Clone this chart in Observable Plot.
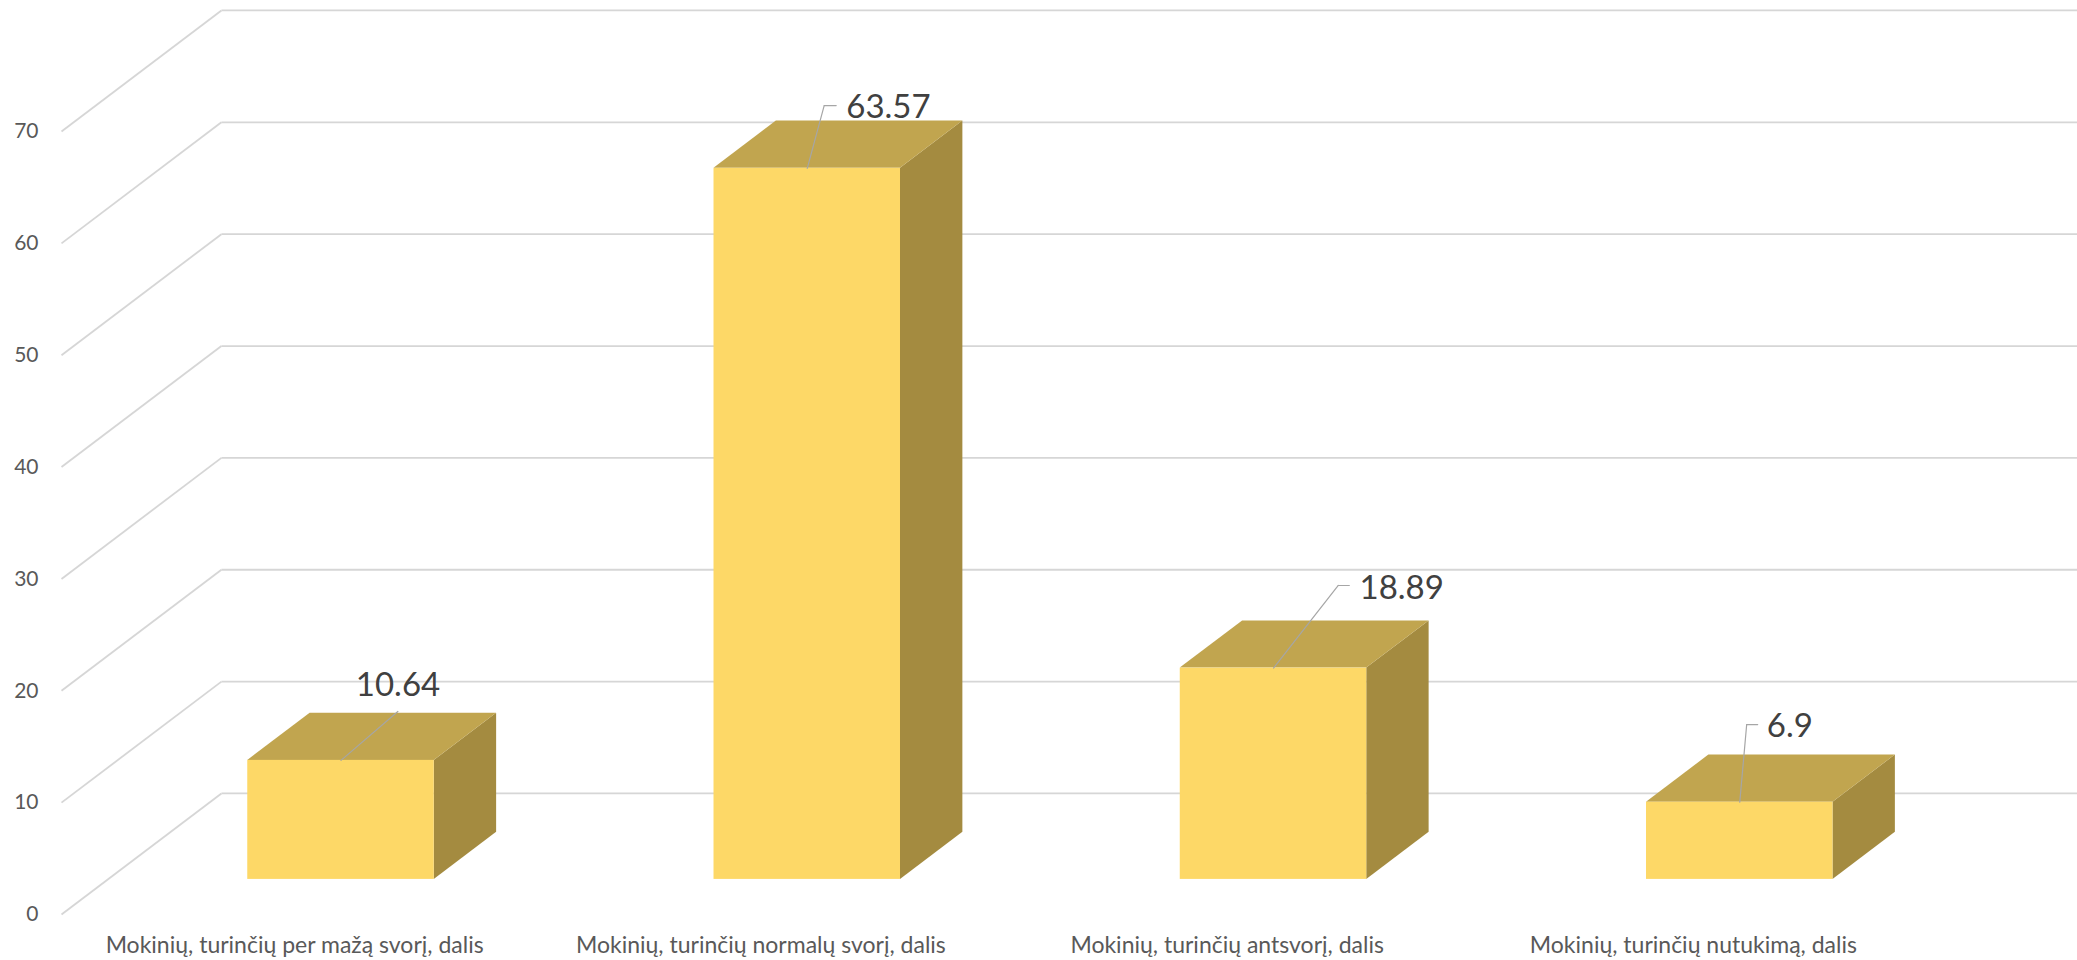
<!DOCTYPE html>
<html>
<head>
<meta charset="utf-8">
<script src="https://cdn.jsdelivr.net/npm/d3@7"></script>
<script src="https://cdn.jsdelivr.net/npm/@observablehq/plot@0.6"></script>
<style>
  html, body { margin: 0; padding: 0; background: #ffffff; }
  #chart svg { display: block; }
</style>
</head>
<body>
<div id="chart"></div>
<script>
// ---- data ----
const categories = [
  "Mokinių, turinčių per mažą svorį, dalis",
  "Mokinių, turinčių normalų svorį, dalis",
  "Mokinių, turinčių antsvorį, dalis",
  "Mokinių, turinčių nutukimą, dalis"
];
const values = [10.64, 63.57, 18.89, 6.9];
const yTicks = [0, 10, 20, 30, 40, 50, 60, 70];

// ---- 3D look (in data units of the scales) ----
const DEPTH_X = 0.343;   // depth of the chart box along x (category units)
const DEPTH_Y = 10.82;   // depth of the chart box along y (value units)
const F0 = 0.29, F1 = 0.68; // bar front/back position inside the depth
const BAR_W = 0.4;

const FRONT = "#FDD867", TOP = "#C1A54F", SIDE = "#A48B40";
const GRID = "#D6D6D6", LEADER = "#A6A6A6";

const rows = categories.map((cat, i) => ({cat, i, value: values[i]}));
const xc = d => d.i + 0.5;

const topPts = rows.flatMap(d => [F0, F1].map(f => ({
  cat: d.cat, y: d.value + f * DEPTH_Y,
  x1: xc(d) - BAR_W / 2 + f * DEPTH_X, x2: xc(d) + BAR_W / 2 + f * DEPTH_X
})));
const sidePts = rows.flatMap(d => [F0, F1].map(f => ({
  cat: d.cat, x: xc(d) + BAR_W / 2 + f * DEPTH_X,
  y1: f * DEPTH_Y, y2: d.value + f * DEPTH_Y
})));

const lineShape = {draw(context, l) { context.moveTo(0, 0); context.lineTo(0, -l); }};
const frontX = d => xc(d) + F0 * DEPTH_X;
const frontTop = d => d.value + F0 * DEPTH_Y;

function dataLabel(i, angle, len, kink, tdx, tdy, anchor) {
  const d = [rows[i]];
  const rad = angle * Math.PI / 180;
  const marks = [
    Plot.vector(d, {x: frontX, y: frontTop, length: len, rotate: angle, anchor: "start",
      shape: lineShape, stroke: LEADER, strokeWidth: 1.2, fill: "none"})
  ];
  if (kink) marks.push(Plot.vector(d, {x: frontX, y: frontTop, length: kink, rotate: 90, anchor: "start",
      dx: len * Math.sin(rad), dy: -len * Math.cos(rad),
      shape: lineShape, stroke: LEADER, strokeWidth: 1.2, fill: "none"}));
  marks.push(Plot.text(d, {x: frontX, y: frontTop, text: r => String(r.value),
    dx: tdx, dy: tdy, textAnchor: anchor, fontSize: 33, fill: "#404040"}));
  return marks;
}

const chart = Plot.plot({
  width: 2077,
  height: 960,
  marginLeft: 61,
  marginRight: 151,
  marginTop: 131,
  marginBottom: 46,
  style: {fontFamily: "Lato, 'Open Sans', sans-serif", background: "#ffffff"},
  x: {domain: [0, 4]},
  y: {domain: [0, 70]},
  marks: [
    // side wall gridlines (diagonals)
    Plot.link(yTicks, {x1: () => 0, y1: v => v, x2: () => DEPTH_X, y2: v => v + DEPTH_Y,
      stroke: GRID, strokeWidth: 1.8}),
    // back wall gridlines
    Plot.link(yTicks, {x1: () => DEPTH_X, y1: v => v + DEPTH_Y, x2: () => 4 + DEPTH_X, y2: v => v + DEPTH_Y,
      stroke: GRID, strokeWidth: 1.8}),
    // bars: side, top, front
    Plot.areaY(sidePts, {x: "x", y1: "y1", y2: "y2", z: "cat", fill: SIDE, curve: "linear"}),
    Plot.areaX(topPts, {y: "y", x1: "x1", x2: "x2", z: "cat", fill: TOP, curve: "linear"}),
    Plot.rect(rows, {
      x1: d => xc(d) - BAR_W / 2 + F0 * DEPTH_X, x2: d => xc(d) + BAR_W / 2 + F0 * DEPTH_X,
      y1: () => F0 * DEPTH_Y, y2: frontTop, fill: FRONT
    }),
    // axes
    Plot.axisY({ticks: yTicks, tickSize: 0, tickPadding: 23, fontSize: 21, color: "#595959", label: null}),
    Plot.axisX({ticks: rows.map(xc), tickFormat: t => categories[Math.floor(t)], tickSize: 0,
      tickPadding: 22, fontSize: 23, color: "#595959", label: null}),
    // data labels with leader lines
    ...dataLabel(0, 49.3, 75, 0, 57, -75, "middle"),
    ...dataLabel(1, 15.1, 65, 12, 39, -61, "start"),
    ...dataLabel(2, 38.1, 105, 11, 86, -80, "start"),
    ...dataLabel(3, 5.1, 78, 11, 27, -76, "start")
  ]
});
document.getElementById("chart").appendChild(chart);
</script>
</body>
</html>
